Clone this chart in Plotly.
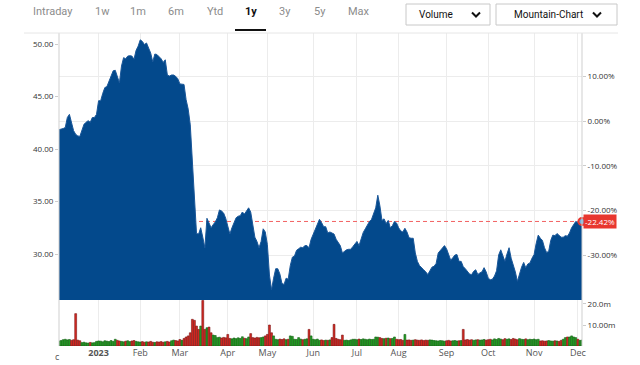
import pandas as pd
import plotly.graph_objects as go

# ---------------- data ----------------
holidays = ["2022-12-26", "2023-01-02", "2023-01-16", "2023-02-20", "2023-04-07",
            "2023-05-29", "2023-06-19", "2023-07-04", "2023-09-04", "2023-11-23"]
dates = pd.bdate_range("2022-12-05", "2023-12-05", freq="C", holidays=holidays) + pd.Timedelta(hours=12)

price = [
    41.84, 41.88, 41.95, 42.05, 43.0, 43.3, 42.6, 41.75, 41.4, 41.25,
    41.2, 41.9, 42.35, 42.55, 42.7, 42.55, 43.0, 43.0, 43.3, 44.6,
    44.6, 45.3, 45.85, 45.95, 46.45, 47.0, 47.45, 47.5, 46.9, 46.3,
    47.9, 48.7, 48.6, 48.85, 48.89, 48.85, 48.55, 49.4, 49.8, 50.4,
    50.25, 49.95, 50.1, 49.55, 49.14, 48.3, 49.05, 49.0, 48.8, 48.6,
    48.25, 48.5, 47.05, 46.95, 47.05, 47.05, 46.92, 46.7, 46.2, 46.2,
    46.15, 44.7, 43.8, 42.3, 38.8, 35.3, 31.95, 31.9, 32.5, 31.6,
    30.6, 33.4, 32.85, 32.5, 32.8, 33.05, 33.45, 34.2, 34.1, 33.9,
    33.4, 32.7, 31.9, 32.5, 33.0, 33.45, 33.6, 33.65, 34.0, 33.8,
    34.1, 34.4, 34.0, 32.6, 31.6, 31.2, 30.6, 31.2, 32.4, 32.1,
    30.9, 28.0, 26.6, 27.7, 28.6, 28.6, 28.1, 27.2, 27.1, 27.7,
    27.6, 28.9, 29.7, 29.8, 30.35, 30.5, 30.65, 30.6, 30.8, 30.8,
    30.6, 31.4, 31.9, 32.3, 32.9, 33.3, 33.0, 32.6, 32.6, 32.0,
    32.1, 32.0, 31.9, 31.4, 31.1, 30.8, 30.1, 30.3, 30.4, 30.45,
    30.45, 30.7, 31.0, 31.2, 30.8, 31.5, 32.05, 32.4, 32.75, 33.1,
    33.3, 33.9, 34.4, 35.6, 34.6, 33.2, 33.35, 32.9, 33.2, 32.5,
    32.7, 33.1, 32.95, 32.5, 32.2, 32.1, 32.45, 32.1, 31.55, 31.5,
    31.5, 30.1, 29.3, 28.9, 28.65, 28.5, 28.3, 28.05, 28.4, 28.75,
    28.83, 29.1, 30.1, 30.3, 30.5, 30.8, 30.5, 30.0, 29.4, 29.65,
    29.9, 29.95, 29.3, 29.3, 28.8, 28.6, 28.4, 28.1, 28.03, 28.35,
    28.5, 28.05, 28.2, 28.3, 28.7, 28.3, 27.7, 27.55, 27.6, 27.9,
    28.4, 29.9, 30.4, 29.8, 29.3, 30.0, 30.6, 29.6, 29.0, 28.3,
    27.4, 28.2, 28.75, 29.2, 28.7, 29.05, 29.15, 29.6, 29.95, 31.0,
    31.8, 31.5, 31.3, 30.6, 30.15, 30.25, 31.3, 31.8, 31.75, 31.95,
    31.8, 31.6, 31.6, 31.75, 31.7, 32.0, 32.5, 32.75, 33.1, 33.0,
    33.0, 33.1,
]

volume_m = [
    2.4, 2.6, 3.0, 3.2, 2.9, 3.1, 2.7, 3.0,
    15.4,
    2.8, 2.5,
    1.6, 1.8, 1.5, 1.4, 1.7, 1.5, 1.6,
    2.2, 2.4, 2.3, 2.0, 2.5, 2.3, 2.1, 2.6, 2.2, 3.2, 2.7, 2.4, 2.2, 2.0, 2.3, 2.5, 2.1, 2.4, 2.6, 2.2, 2.0,
    1.9, 2.1, 1.8, 2.0, 1.9, 2.2, 1.8, 1.7, 2.0, 1.9, 2.1, 1.8, 2.0, 2.2, 1.9,
    2.5, 2.8, 2.6, 2.4, 3.1, 2.7,
    3.6, 4.3, 4.8, 6.3, 12.7, 12.2, 9.5, 7.9, 9.5, 21.7, 7.9, 8.7, 9.0, 6.3, 5.2, 5.0,
    4.0, 4.2, 3.8, 4.1, 3.9,
    5.5,
    3.6, 3.4, 3.8, 3.5, 3.9, 3.6, 4.4, 3.7, 3.5,
    4.3, 5.9,
    4.0, 3.8, 4.1, 3.9, 4.0,
    4.3, 4.8, 5.5, 10.0, 6.3, 4.8,
    3.2, 3.0, 3.3, 3.1, 3.4, 3.0, 3.2,
    4.8, 4.6,
    3.2, 3.1, 4.0, 3.3, 3.0, 3.2, 3.4,
    7.9, 4.8,
    3.2, 3.0, 3.3,
    2.7, 2.9, 2.6, 2.8, 2.7, 2.9,
    4.0, 10.3, 3.6,
    3.2, 3.0,
    5.2,
    2.7, 2.8, 2.6, 2.9,
    3.2,
    3.2, 3.0, 3.3, 3.1, 3.4, 3.2, 3.0, 3.3, 3.1, 3.2,
    4.3, 4.2,
    4.0,
    3.6, 3.5, 3.7, 3.8, 3.5, 3.6,
    4.3,
    3.2, 3.0, 3.1,
    2.7,
    5.5,
    2.8, 2.9, 2.7, 2.8, 3.0, 2.8, 2.7, 2.9, 2.6, 2.8, 2.7, 2.9, 2.8, 2.6,
    2.5, 2.4, 2.6, 2.5, 2.3, 2.5, 2.7, 2.4, 2.5, 2.6, 2.4, 2.5, 2.6,
    7.9,
    2.9, 3.1, 2.8, 3.0, 2.7, 2.9, 3.0, 2.8, 2.9, 3.1, 2.8,
    3.0, 3.2, 2.9, 3.4, 3.1, 3.6, 3.3, 3.0, 3.5, 3.2, 3.4, 3.1, 3.6, 3.3, 3.0, 3.5, 3.2, 3.1, 3.4, 3.0,
    3.2, 3.1, 3.3, 3.0, 3.2,
    2.4, 2.5, 2.3, 2.4, 2.6, 2.4, 2.3, 2.5, 2.4, 2.2,
    2.7, 3.2, 4.0, 4.3, 4.3, 4.8, 4.3, 4.0, 3.2, 2.7, 2.8,
]

assert len(price) == len(dates) == len(volume_m), (len(price), len(dates), len(volume_m))

base_price = 42.666  # 0 % reference level
price_range = [25.62, 51.05]
price_ticks = [30, 35, 40, 45, 50]
pct_ticks = [-30, -20, -10, 0, 10]
vol_range = [0, 21.9]
vol_ticks = [10, 20]
vol_tick_labels = ["10.00m", "20.0m"]
month_labels = ["<b>2023</b>", "Feb", "Mar", "Apr", "May", "Jun", "Jul",
                "Aug", "Sep", "Oct", "Nov", "Dec"]
menu_items = ["Intraday", "1w", "1m", "6m", "Ytd", "1y", "3y", "5y", "Max"]
menu_x = [53, 102, 138, 176, 215, 251, 285, 320, 359]

# ---------------- derived ----------------
last_price = price[-1]
last_pct = (last_price / base_price - 1) * 100
pct_range = [(v / base_price - 1) * 100 for v in price_range]

s = pd.Series(dates)
month_starts = s.groupby(s.dt.to_period("M")).first().tolist()[1:]

up_fill, up_line = "#22a022", "#135c13"
dn_fill, dn_line = "#d62a22", "#7a1212"
bar_fill = [up_fill if i == 0 or price[i] >= price[i - 1] else dn_fill for i in range(len(price))]
bar_line = [up_line if c == up_fill else dn_line for c in bar_fill]

# pixel helpers for decorations (plot area: x 59..582, y 33..346)
L, R, T, B = 59, 582, 33, 346
def px(x):
    return (x - L) / (R - L)
def py(y):
    return (B - y) / (B - T)

FONT = "Open Sans"

fig = go.Figure()
# last-price reference line (drawn first so the area covers it)
fig.add_trace(go.Scatter(
    x=[dates[0], dates[-1]], y=[last_price, last_price], mode="lines",
    line=dict(color="#f26262", width=1, dash="4px,3px"),
    xaxis="x", yaxis="y", hoverinfo="skip", showlegend=False))
fig.add_trace(go.Scatter(
    x=dates, y=price, mode="lines", fill="tozeroy",
    line=dict(color="#1a5799", width=1), fillcolor="#03498c",
    xaxis="x", yaxis="y", hoverinfo="skip", showlegend=False))
fig.add_trace(go.Bar(
    x=dates, y=volume_m,
    marker=dict(color=bar_fill, line=dict(color=bar_line, width=0.6)),
    xaxis="x", yaxis="y2", hoverinfo="skip", showlegend=False))
fig.add_trace(go.Scatter(
    x=[dates[-1]], y=[last_pct], mode="markers", cliponaxis=False,
    marker=dict(size=7, color="#6fb0e0", line=dict(color="#e8372f", width=2)),
    xaxis="x", yaxis="y3", hoverinfo="skip", showlegend=False))

shapes = [
    dict(type="line", xref="paper", yref="paper", x0=0, x1=0, y0=0, y1=1,
         line=dict(color="#cfcfcf", width=1)),
    dict(type="line", xref="paper", yref="paper", x0=1, x1=1, y0=0, y1=1,
         line=dict(color="#cfcfcf", width=1)),
    dict(type="line", xref="paper", yref="paper", x0=px(24), x1=px(618), y0=1, y1=1,
         line=dict(color="#e6e6e6", width=1)),
    # 1y underline
    dict(type="line", xref="paper", yref="paper", x0=px(235), x1=px(266), y0=py(30), y1=py(30),
         line=dict(color="#111111", width=2)),
    # buttons
    dict(type="rect", xref="paper", yref="paper", x0=px(406), x1=px(490), y0=py(25), y1=py(4),
         line=dict(color="#c8c8c8", width=1), fillcolor="white"),
    dict(type="rect", xref="paper", yref="paper", x0=px(496), x1=px(617), y0=py(25), y1=py(4),
         line=dict(color="#c8c8c8", width=1), fillcolor="white"),
]
for cx in (476, 597):
    shapes.append(dict(
        type="path", xref="paper", yref="paper",
        path=f"M {px(cx-4)},{py(12.5)} L {px(cx)},{py(16.5)} L {px(cx+4)},{py(12.5)}",
        line=dict(color="#111111", width=2)))

def txt(x, y, text, size, color, family=FONT, xanchor="center"):
    return dict(x=px(x), xref="paper", y=py(y), yref="paper", text=text, showarrow=False,
                xanchor=xanchor, yanchor="middle", font=dict(family=family, size=size, color=color))

annotations = [
    dict(x=1, xref="paper", xanchor="left", xshift=1, y=last_pct, yref="y3", yanchor="middle",
         text=f"{last_pct:.2f}%", showarrow=False, bgcolor="#e8372f", borderpad=1,
         font=dict(family=FONT, size=8, color="white")),
    txt(57, 356, "c", 9, "#555555"),
    txt(455, 15, "Volume", 10, "#111111", family="Roboto", xanchor="right"),
    txt(585, 15, "Mountain-Chart", 10, "#111111", family="Roboto", xanchor="right"),
]
for label, cx in zip(menu_items, menu_x):
    sel = label == "1y"
    annotations.append(txt(cx, 12, f"<b>{label}</b>" if sel else label, 11,
                           "#111111" if sel else "#8c8c8c", family="Roboto"))

fig.update_layout(
    width=640, height=365, autosize=False,
    margin=dict(l=L, r=640 - R, t=T, b=365 - B, pad=0),
    paper_bgcolor="white", plot_bgcolor="white",
    bargap=0.1, showlegend=False,
    xaxis=dict(
        type="date", domain=[0, 1], anchor="y2", automargin=False,
        range=[dates[0], dates[-1]],
        rangebreaks=[dict(bounds=["sat", "mon"]), dict(values=holidays)],
        tickvals=month_starts, ticktext=month_labels,
        showgrid=True, gridcolor="#ececec", gridwidth=1,
        ticks="", showline=False, zeroline=False,
        tickfont=dict(family=FONT, size=9, color="#555555"),
    ),
    yaxis=dict(
        domain=[py(300), 1], anchor="x", range=price_range, automargin=False,
        tickvals=price_ticks, tickformat=".2f",
        showgrid=False, zeroline=False, showline=False,
        ticks="outside", ticklen=3, tickcolor="#cccccc",
        tickfont=dict(family=FONT, size=8, color="#333333"),
    ),
    yaxis3=dict(
        overlaying="y", side="right", anchor="x", range=pct_range, automargin=False,
        tickvals=pct_ticks, ticktext=[f"{v:.2f}%" for v in pct_ticks],
        showgrid=True, gridcolor="#ececec", zeroline=False, showline=False,
        ticks="outside", ticklen=3, tickcolor="#cccccc",
        tickfont=dict(family=FONT, size=8, color="#333333"),
    ),
    yaxis2=dict(
        domain=[0, py(300)], anchor="x", side="right", range=vol_range, automargin=False,
        tickvals=vol_ticks, ticktext=vol_tick_labels,
        showgrid=False, zeroline=False, showline=False,
        ticks="outside", ticklen=3, tickcolor="#cccccc",
        tickfont=dict(family=FONT, size=8, color="#333333"),
    ),
    shapes=shapes,
    annotations=annotations,
)

fig.write_html("out.html", config={"displayModeBar": False},
               post_script="document.body.style.margin='0';")
